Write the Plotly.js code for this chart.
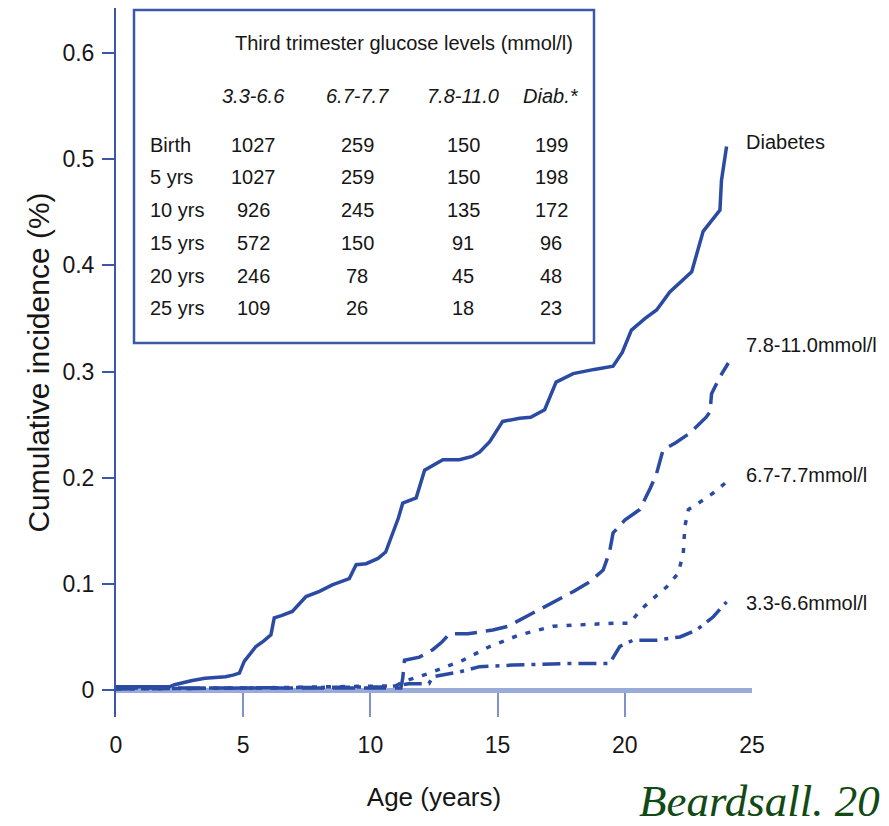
<!DOCTYPE html>
<html>
<head>
<meta charset="utf-8">
<script src="https://cdn.plot.ly/plotly-3.0.1.min.js"></script>
<style>html,body{margin:0;padding:0;background:#fff;}#chart{width:889px;height:826px;}</style>
</head>
<body>
<div id="chart"></div>
<script>
// ---------- data ----------
const seriesNames = ["Diabetes", "7.8-11.0mmol/l", "6.7-7.7mmol/l", "3.3-6.6mmol/l"];

const diabX = [0, 2.1, 2.3, 2.55, 3.0, 3.5, 4.3, 4.6, 4.85, 5.04, 5.5, 5.8, 6.09, 6.22, 6.5, 6.93, 7.47, 8.0, 8.5, 9.17, 9.44, 9.83, 10.3, 10.6, 10.88, 11.1, 11.27, 11.5, 11.8, 12.13, 12.4, 12.85, 13.5, 14.0, 14.29, 14.69, 15.2, 15.87, 16.3, 16.85, 17.3, 17.97, 18.8, 19.54, 19.9, 20.26, 20.8, 21.25, 21.77, 22.63, 23.08, 23.5, 23.74, 23.8, 24.0];
const diabY = [0.003, 0.003, 0.005, 0.0065, 0.009, 0.011, 0.0125, 0.014, 0.016, 0.027, 0.041, 0.046, 0.052, 0.068, 0.070, 0.074, 0.088, 0.093, 0.099, 0.105, 0.118, 0.119, 0.124, 0.130, 0.148, 0.162, 0.176, 0.178, 0.181, 0.207, 0.211, 0.217, 0.217, 0.220, 0.224, 0.234, 0.253, 0.256, 0.257, 0.264, 0.290, 0.298, 0.302, 0.305, 0.318, 0.339, 0.350, 0.358, 0.375, 0.394, 0.432, 0.445, 0.452, 0.480, 0.512];

const g78X = [0, 11.2, 11.27, 11.34, 11.93, 12.45, 12.8, 13.11, 13.83, 14.81, 15.4, 16.0, 16.6, 17.18, 18.0, 18.62, 19.15, 19.4, 19.54, 20.0, 20.59, 21.0, 21.25, 21.5, 22.0, 22.56, 23.2, 23.35, 23.41, 23.74, 24.07];
const g78Y = [0.002, 0.002, 0.011, 0.028, 0.031, 0.038, 0.045, 0.053, 0.053, 0.0565, 0.060, 0.0675, 0.075, 0.083, 0.093, 0.102, 0.113, 0.130, 0.148, 0.160, 0.170, 0.190, 0.204, 0.226, 0.233, 0.242, 0.257, 0.262, 0.279, 0.295, 0.308];

const g67X = [0, 5.5, 11.0, 11.3, 12.3, 13.0, 13.63, 14.69, 15.87, 17.18, 18.5, 19.54, 20.2, 20.6, 21.1, 21.64, 22.1, 22.3, 22.36, 22.5, 23.08, 23.5, 24.0];
const g67Y = [0.001, 0.002, 0.004, 0.008, 0.0157, 0.022, 0.028, 0.041, 0.052, 0.060, 0.062, 0.063, 0.063, 0.075, 0.086, 0.097, 0.110, 0.129, 0.154, 0.170, 0.179, 0.186, 0.196];

const g33X = [0, 10.75, 11.5, 12.3, 12.45, 13.5, 14.29, 15.6, 17.7, 19.4, 19.8, 20.33, 21.25, 22.17, 22.82, 23.48, 24.0];
const g33Y = [0.001, 0.003, 0.006, 0.006, 0.0126, 0.017, 0.022, 0.0235, 0.025, 0.025, 0.041, 0.047, 0.047, 0.050, 0.0565, 0.069, 0.083];

const xTicks = [0, 5, 10, 15, 20, 25];
const yTicks = [0, 0.1, 0.2, 0.3, 0.4, 0.5, 0.6];
const yTickText = ["0", "0.1", "0.2", "0.3", "0.4", "0.5", "0.6"];

// at-risk table
const tableTitle = "Third trimester glucose levels (mmol/l)";
const groupHeaders = ["3.3-6.6", "6.7-7.7", "7.8-11.0", "Diab.*"];
const rowLabels = ["Birth", "5 yrs", "10 yrs", "15 yrs", "20 yrs", "25 yrs"];
const n33 = [1027, 1027, 926, 572, 246, 109];
const n67 = [259, 259, 245, 150, 78, 26];
const n78 = [150, 150, 135, 91, 45, 18];
const nDiab = [199, 198, 172, 96, 48, 23];

const xTitle = "Age (years)";
const yTitle = "Cumulative incidence (%)";
const sourceText = "Beardsall. 20";

// ---------- styling / layout helpers ----------
const W = 889, H = 826;
const L = 116, R = 752, T = 8, B = 717;
const px = x => (x - L) / (R - L);
const py = y => (B - y) / (B - T);
const SANS = "'Liberation Sans', Arial, Helvetica, sans-serif";
const INK = "#161616";
const LINE = "#2b4ba3";
const AXIS = "#3a57a8";

const traces = [
  {x: diabX, y: diabY, name: seriesNames[0], dash: "solid"},
  {x: g78X, y: g78Y, name: seriesNames[1], dash: "22px,9px"},
  {x: g67X, y: g67Y, name: seriesNames[2], dash: "5px,9px"},
  {x: g33X, y: g33Y, name: seriesNames[3], dash: "18px,7px,4px,7px"}
].map(s => ({
  type: "scatter", mode: "lines", x: s.x, y: s.y, name: s.name,
  line: {color: LINE, width: 3.5, dash: s.dash}, showlegend: false, cliponaxis: false
}));

const annotations = [];
// end-of-line labels
const labelY = [142, 345, 475, 603];
seriesNames.forEach((n, i) => annotations.push({
  xref: "paper", yref: "paper", x: px(744), y: py(labelY[i]), xanchor: "left", yanchor: "middle",
  text: n, showarrow: false, font: {family: SANS, size: 20, color: INK}
}));
// table
annotations.push({xref: "paper", yref: "paper", x: px(404), y: py(43), xanchor: "center", yanchor: "middle",
  text: tableTitle, showarrow: false, font: {family: SANS, size: 20, color: INK}});
const colX = [253, 357, 463, 551];
groupHeaders.forEach((h, i) => annotations.push({xref: "paper", yref: "paper", x: px(colX[i]), y: py(96),
  xanchor: "center", yanchor: "middle", text: h, showarrow: false,
  font: {family: SANS, size: 20, color: INK, style: "italic"}}));
const rowY = [145, 177, 210, 243, 276, 308];
const cols = [n33, n67, n78, nDiab];
rowLabels.forEach((r, j) => {
  annotations.push({xref: "paper", yref: "paper", x: px(148), y: py(rowY[j]), xanchor: "left", yanchor: "middle",
    text: r, showarrow: false, font: {family: SANS, size: 20, color: INK}});
  cols.forEach((c, i) => annotations.push({xref: "paper", yref: "paper", x: px(colX[i]), y: py(rowY[j]),
    xanchor: "center", yanchor: "middle", text: String(c[j]), showarrow: false,
    font: {family: SANS, size: 20, color: INK}}));
});
// source
annotations.push({xref: "paper", yref: "paper", x: px(637), y: py(801), xanchor: "left", yanchor: "middle",
  text: sourceText, showarrow: false,
  font: {family: "'Liberation Serif', 'Times New Roman', serif", size: 45, color: "#114a14", style: "italic"}});

const layout = {
  width: W, height: H,
  margin: {l: L, r: W - R, t: T, b: H - B, pad: 0},
  paper_bgcolor: "#ffffff", plot_bgcolor: "#ffffff",
  showlegend: false,
  xaxis: {
    range: [0, 25], tickvals: xTicks, ticktext: xTicks.map(String),
    showline: false, zeroline: false, showgrid: false,
    ticks: "inside", ticklen: 24, tickwidth: 2, tickcolor: "#7e93cc",
    ticklabelstandoff: 12,
    tickfont: {family: SANS, size: 23, color: INK},
    title: {text: xTitle, standoff: 30, font: {family: SANS, size: 26, color: INK}},
    automargin: false, fixedrange: true
  },
  yaxis: {
    range: [-0.0254, 0.6424], tickvals: yTicks, ticktext: yTickText,
    showline: true, linecolor: AXIS, linewidth: 2, mirror: false,
    zeroline: true, zerolinecolor: "#9aabd9", zerolinewidth: 5,
    showgrid: false,
    ticks: "outside", ticklen: 12, tickwidth: 2, tickcolor: AXIS,
    ticklabelstandoff: 3,
    tickfont: {family: SANS, size: 23, color: INK},
    title: {text: yTitle, standoff: 4, font: {family: SANS, size: 30, color: INK}},
    automargin: false, fixedrange: true
  },
  shapes: [{
    type: "rect", xref: "paper", yref: "paper",
    x0: px(134), x1: px(594), y0: py(343), y1: py(10),
    line: {color: AXIS, width: 2.5}, fillcolor: "#ffffff", layer: "below"
  }],
  annotations: annotations
};

Plotly.newPlot("chart", traces, layout, {displayModeBar: false, staticPlot: true});
</script>
</body>
</html>
